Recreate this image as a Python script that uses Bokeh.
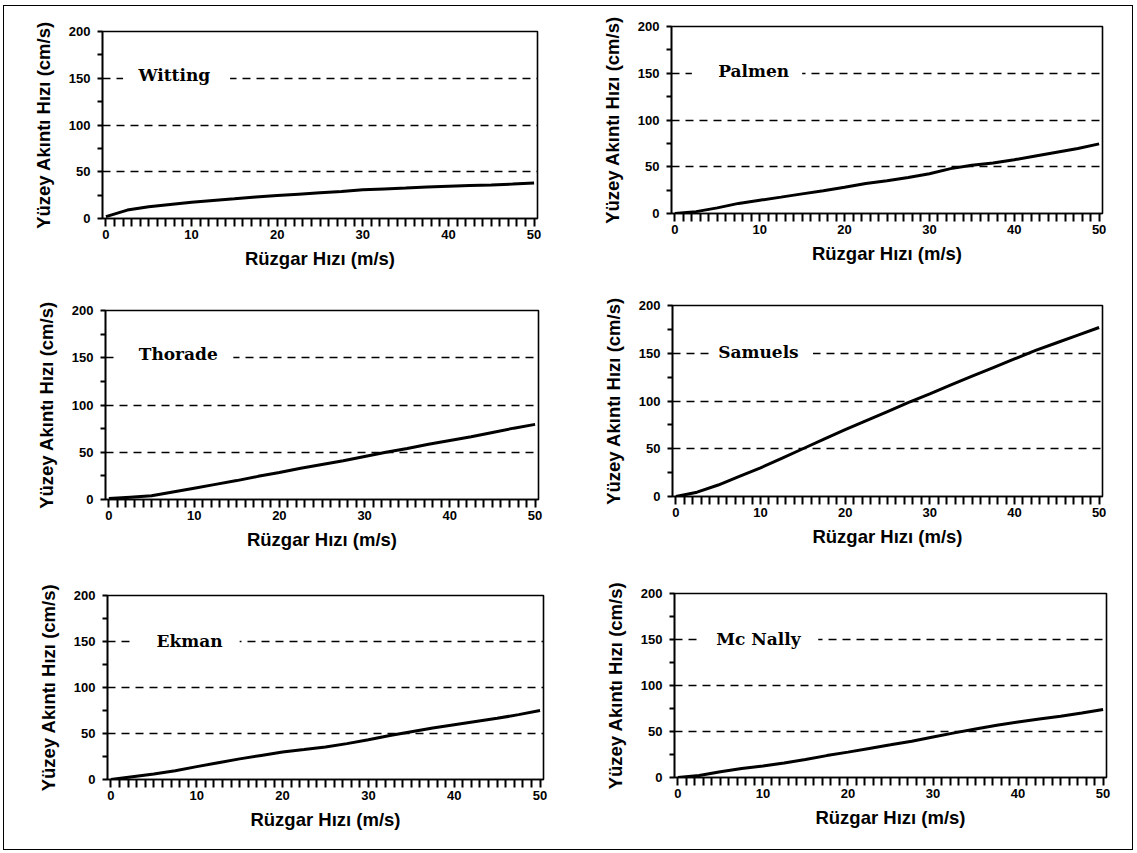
from bokeh.plotting import figure
from bokeh.layouts import column, row
from bokeh.models import Range1d, FixedTicker, CustomJSTickFormatter
from bokeh.core.properties import value
from bokeh.embed import file_html
from bokeh.resources import INLINE

# ---------------- data ----------------
wind = [0, 2.5, 5, 7.5, 10, 12.5, 15, 17.5, 20, 22.5, 25,
        27.5, 30, 32.5, 35, 37.5, 40, 42.5, 45, 47.5, 50]

witting = [2, 9, 12.5, 15, 17.5, 19.3, 21, 23, 24.5, 26, 27.5,
           29, 30.7, 31.6, 32.5, 33.6, 34.5, 35.2, 35.7, 36.8, 38]
palmen = [0, 2, 6, 10.8, 14.2, 17.5, 21, 24.3, 28, 32, 35,
          38.5, 42.5, 48, 51.5, 54, 57.5, 61.5, 65.5, 69.5, 74.5]
thorade = [1, 2.5, 4, 8, 12, 16, 20, 24.5, 28.5, 33, 37,
           41, 45.5, 50, 54, 58.5, 62.5, 66.5, 71, 75.5, 79.5]
samuels = [0, 4.5, 12, 21, 30, 40, 50, 60, 70, 79.5, 89,
           98.5, 107.5, 117, 126, 135, 144, 153, 161, 169, 177]
ekman = [0, 3, 6, 9.5, 14, 18.2, 22.4, 26.2, 29.8, 32.5, 35.3,
         39, 43.2, 47.8, 52, 56, 59.5, 63, 66.5, 70.5, 75]
mcnally = [0, 2.2, 6.3, 9.7, 12.6, 15.8, 19.5, 23.8, 27.6, 31.6, 35.5,
           39.5, 44, 48.5, 52.7, 56.8, 60.3, 63.5, 66.5, 70, 74]

names = ["Witting", "Palmen", "Thorade", "Samuels", "Ekman", "Mc Nally"]
series = [witting, palmen, thorade, samuels, ekman, mcnally]

x_label = "Rüzgar Hızı (m/s)"
y_label = "Yüzey Akıntı Hızı (cm/s)"
x_label_step = 10
x_ticks = list(range(0, 51))
y_label_step = 50
y_ticks = [0, 25, 50, 75, 100, 125, 150, 175, 200]
grid_levels = [50, 100, 150]

# ---------------- layout / style ----------------
# (fig width, fig height, border left, right, top, bottom)
boxes = [
    (562, 284, 98, 29, 25, 72),
    (566, 284, 105, 30, 20, 77),
    (562, 282, 101, 28, 20, 73),
    (566, 282, 106, 30, 15, 76),
    (562, 277, 103, 23, 23, 70),
    (566, 277, 108, 26, 21, 72),
]
# (text x, text y, gap left, gap right) in data units
name_pos = [
    (3.8, 154, 2.0, 14.5),
    (5.1, 152, 2.0, 15.0),
    (3.5, 154, 1.0, 14.6),
    (5.0, 151, 4.2, 16.2),
    (5.3, 151, 2.6, 15.0),
    (4.5, 151, 2.4, 16.5),
]

SANS = "Liberation Sans"
SERIF = "DejaVu Serif"


def step_formatter(step):
    return CustomJSTickFormatter(
        args=dict(step=step),
        code="return (Math.abs(tick % step) < 1e-9) ? String(tick) : '';")


def make_panel(i):
    w, h, bl, br, bt, bb = boxes[i]
    p = figure(width=w, height=h, output_backend="svg", toolbar_location=None,
               x_range=Range1d(-0.4, 50.4), y_range=Range1d(0, 200),
               min_border_left=bl, min_border_right=br,
               min_border_top=bt, min_border_bottom=bb)
    p.outline_line_color = "black"
    p.outline_line_width = 1.6

    xa = p.xaxis[0]
    xa.ticker = FixedTicker(ticks=x_ticks)
    xa.formatter = step_formatter(x_label_step)
    xa.axis_label = x_label
    xa.major_tick_in = 0
    xa.major_tick_out = 8
    xa.major_label_standoff = 3
    xa.axis_label_standoff = 6

    ya = p.yaxis[0]
    ya.ticker = FixedTicker(ticks=y_ticks)
    ya.formatter = step_formatter(y_label_step)
    ya.axis_label = y_label
    ya.major_tick_in = 0
    ya.major_tick_out = 5
    ya.major_label_standoff = 7
    ya.axis_label_standoff = 12

    for ax in (xa, ya):
        ax.minor_tick_line_color = None
        ax.axis_line_color = "black"
        ax.axis_line_width = 1.6
        ax.major_tick_line_color = "black"
        ax.major_tick_line_width = 2
        ax.major_label_text_font = SANS
        ax.major_label_text_font_size = "13px"
        ax.major_label_text_font_style = "bold"
        ax.major_label_text_color = "black"
        ax.axis_label_text_font = SANS
        ax.axis_label_text_font_size = "18.5px"
        ax.axis_label_text_font_style = "bold"
        ax.axis_label_text_color = "black"

    p.xgrid.visible = False
    p.ygrid.ticker = FixedTicker(ticks=grid_levels)
    p.ygrid.grid_line_color = "black"
    p.ygrid.grid_line_width = 1.6
    p.ygrid.grid_line_dash = "8 6"

    p.line(wind, series[i], line_color="black", line_width=3)

    tx, ty, gl, gr = name_pos[i]
    p.quad(left=[gl], right=[gr], bottom=[140], top=[163],
           fill_color="white", line_color=None)
    p.text(x=[tx], y=[ty], text=[names[i]], text_font=value(SERIF),
           text_font_size="17px", text_font_style="bold",
           text_align="left", text_baseline="middle", text_color="black")
    return p


panels = [make_panel(i) for i in range(6)]
# each figure in its own column so that frames are not aligned across a row
cells = [column(pn) for pn in panels]
layout = column(
    row(cells[0], cells[1]),
    row(cells[2], cells[3]),
    row(cells[4], cells[5]),
    styles={"border": "1px solid black", "margin-left": "3px",
            "margin-top": "5px"},
)

open("out.html", "w").write(file_html(layout, INLINE))
